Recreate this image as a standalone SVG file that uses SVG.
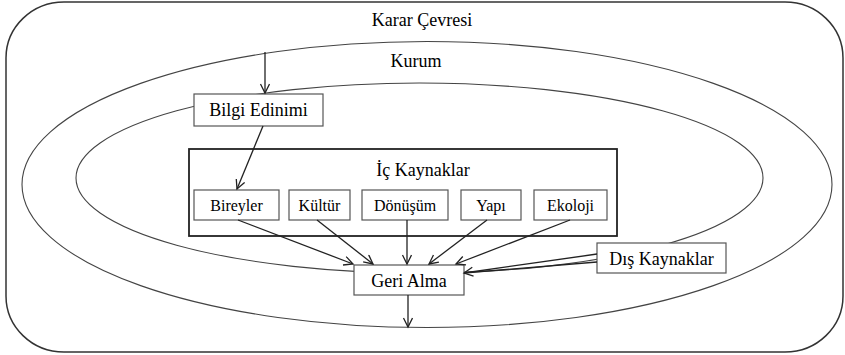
<svg xmlns="http://www.w3.org/2000/svg" width="845" height="355" viewBox="0 0 845 355">
  <style>
    .frame { fill: #ffffff; stroke: #333333; stroke-width: 1.5; }
    .ring { fill: none; stroke: #444444; stroke-width: 1.1; }
    .box { fill: #ffffff; stroke: #555555; stroke-width: 1.2; }
    .group-box { fill: #ffffff; stroke: #222222; stroke-width: 1.8; }
    .label { font-family: "Liberation Serif", "Times New Roman", serif; font-size: 18px; fill: #000000; text-anchor: middle; }
    .small { font-size: 16px; }
    .edge { fill: none; stroke: #222222; stroke-width: 1.3; }
  </style>
  <defs>
    <marker id="arrow" markerUnits="userSpaceOnUse" markerWidth="12" markerHeight="12" refX="10" refY="5" orient="auto">
      <path d="M1,0.5 L10,5 L1,9.5" fill="none" stroke="#222222" stroke-width="1.3"/>
    </marker>
  </defs>

  <!-- decision environment frame -->
  <g id="karar-cevresi">
    <rect class="frame" x="6" y="2" width="837" height="350" rx="58" ry="56"/>
    <text class="label" x="422" y="26">Karar Çevresi</text>
  </g>

  <!-- organisation rings -->
  <g id="kurum">
    <ellipse class="ring" cx="427" cy="184.5" rx="405" ry="143"/>
    <ellipse class="ring" cx="419.5" cy="178" rx="343.5" ry="95"/>
    <text class="label" x="416" y="67">Kurum</text>
  </g>

  <g id="bilgi-edinimi">
    <rect class="box" x="194" y="94" width="129" height="32"/>
    <text class="label" x="258.5" y="116">Bilgi Edinimi</text>
  </g>

  <g id="ic-kaynaklar">
    <rect class="group-box" x="189" y="149" width="428" height="87"/>
    <text class="label" x="423" y="176">İç Kaynaklar</text>
  </g>

  <g id="bireyler">
    <rect class="box" x="194" y="190" width="85" height="30"/>
    <text class="label small" x="236.5" y="211">Bireyler</text>
  </g>
  <g id="kultur">
    <rect class="box" x="289" y="190" width="61" height="30"/>
    <text class="label small" x="319.5" y="211">Kültür</text>
  </g>
  <g id="donusum">
    <rect class="box" x="362" y="190" width="86" height="30"/>
    <text class="label small" x="405" y="211">Dönüşüm</text>
  </g>
  <g id="yapi">
    <rect class="box" x="461" y="190" width="60" height="30"/>
    <text class="label small" x="491" y="211">Yapı</text>
  </g>
  <g id="ekoloji">
    <rect class="box" x="534" y="190" width="73" height="30"/>
    <text class="label small" x="570.5" y="211">Ekoloji</text>
  </g>

  <g id="dis-kaynaklar">
    <rect class="box" x="597" y="243" width="129" height="30"/>
    <text class="label" x="661.5" y="264.5">Dış Kaynaklar</text>
  </g>

  <g id="geri-alma">
    <rect class="box" x="354" y="265" width="110" height="30"/>
    <text class="label" x="409" y="286.5">Geri Alma</text>
  </g>

  <!-- connectors -->
  <g id="connectors">
    <line class="edge" x1="265" y1="52" x2="265" y2="93" marker-end="url(#arrow)"/>
    <line class="edge" x1="263" y1="126" x2="237" y2="189" marker-end="url(#arrow)"/>
    <line class="edge" x1="238" y1="220" x2="353" y2="264" marker-end="url(#arrow)"/>
    <line class="edge" x1="317" y1="220" x2="373" y2="264" marker-end="url(#arrow)"/>
    <line class="edge" x1="407" y1="220" x2="407" y2="264" marker-end="url(#arrow)"/>
    <line class="edge" x1="487" y1="220" x2="429" y2="264" marker-end="url(#arrow)"/>
    <line class="edge" x1="570" y1="220" x2="456" y2="264" marker-end="url(#arrow)"/>
    <line class="edge" x1="597" y1="254" x2="464" y2="273" marker-end="url(#arrow)"/>
    <line class="edge" x1="597" y1="262" x2="464" y2="273"/>
    <line class="edge" x1="408" y1="295" x2="408" y2="327" marker-end="url(#arrow)"/>
  </g>
</svg>
